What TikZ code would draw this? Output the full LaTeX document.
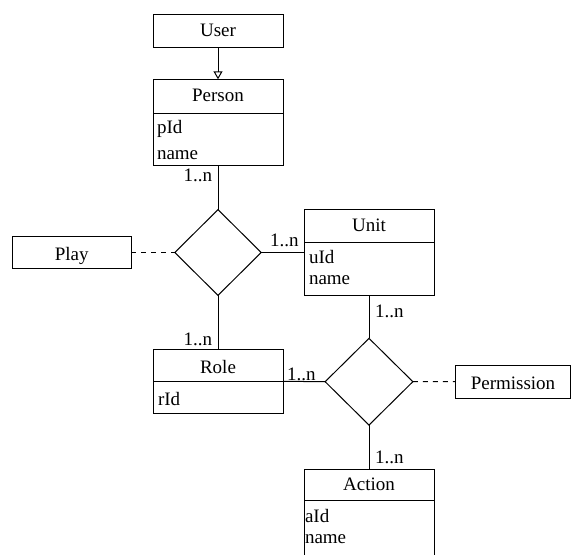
\documentclass[tikz,border=0pt]{standalone}
\usepackage{fontspec}
\setmainfont{Liberation Serif}
\newfontfamily\erfont{Liberation Serif}
\usetikzlibrary{shapes.geometric,arrows.meta}
\begin{document}
\begin{tikzpicture}[x=1pt,y=-1pt, line width=1pt,
  box/.style={draw, rectangle, inner sep=0pt, outer sep=0pt, minimum width=130pt},
  rel/.style={draw, diamond, inner sep=0pt, outer sep=0pt},
  txt/.style={inner sep=0pt, outer sep=0pt, font=\erfont\fontsize{19}{22}\selectfont},
  dashline/.style={dash pattern=on 5pt off 5pt}]
\useasboundingbox (0,0) rectangle (572,554);
% entities
\node[box, minimum height=33.3pt] (user) at (218,30.7) {};
\node[box, minimum height=86.4pt] (person) at (218,122.5) {};
\node[box, minimum height=86.4pt] (unit) at (369,252.5) {};
\node[box, minimum height=64pt] (role) at (218,381.3) {};
\node[box, minimum height=100pt] (action) at (369,519.3) {};
\node[box, minimum width=118.7pt, minimum height=31.6pt] (play) at (71.7,252.5) {};
\node[box, minimum width=115pt, minimum height=33pt] (perm) at (513,381.5) {};
% relationships
\node[rel, minimum width=86.4pt, minimum height=85.7pt] (d1) at (218,252.5) {};
\node[rel, minimum width=87.7pt, minimum height=86.7pt] (d2) at (369,381.7) {};
% dividers
\draw ([yshift=-34pt]person.north west) -- ([yshift=-34pt]person.north east);
\draw ([yshift=-32.7pt]unit.north west) -- ([yshift=-32.7pt]unit.north east);
\draw ([yshift=-32.4pt]role.north west) -- ([yshift=-32.4pt]role.north east);
\draw ([yshift=-30.7pt]action.north west) -- ([yshift=-30.7pt]action.north east);
% titles
\node[txt, anchor=base] (tuser) at (218,36.7) {User};
\node[txt, anchor=base] (tperson) at (218,101.7) {Person};
\node[txt, anchor=base] (tunit) at (369,231.7) {Unit};
\node[txt, anchor=base] (trole) at (218,373.3) {Role};
\node[txt, anchor=base] (taction) at (369,490) {Action};
\node[txt, anchor=base] (tplay) at (71.7,260) {Play};
\node[txt, anchor=base] (tperm) at (513,389.3) {Permission};
% attributes
\node[txt, anchor=base west] (apid) at (157,133.3) {pId};
\node[txt, anchor=base west] (apname) at (157,159.3) {name};
\node[txt, anchor=base west] (auid) at (309,263.3) {uId};
\node[txt, anchor=base west] (auname) at (309,284.3) {name};
\node[txt, anchor=base west] (arid) at (158,405) {rId};
\node[txt, anchor=base west] (aaid) at (305,522.7) {aId};
\node[txt, anchor=base west] (aaname) at (305,543.3) {name};
% connectors
\draw[-{Triangle[open,length=8pt,width=9pt]}] (user) -- (person);
\draw (person.south) -- (d1.north);
\draw (d1.east) -- (unit.west);
\draw (d1.south) -- (role.north);
\draw (unit.south) -- (d2.north);
\draw (role.east) -- (d2.west);
\draw (d2.south) -- (action.north);
\draw[dashline] (play.east) -- (d1.west);
\draw[dashline] (d2.east) -- (perm.west);
% multiplicities
\node[txt, anchor=base east] (m1) at (212,181.7) {1..n};
\node[txt, anchor=base west] (m2) at (270,246.7) {1..n};
\node[txt, anchor=base west] (m3) at (375,317) {1..n};
\node[txt, anchor=base east] (m4) at (212,345) {1..n};
\node[txt, anchor=base west] (m5) at (287,380) {1..n};
\node[txt, anchor=base west] (m6) at (375,463.3) {1..n};
\end{tikzpicture}
\end{document}
